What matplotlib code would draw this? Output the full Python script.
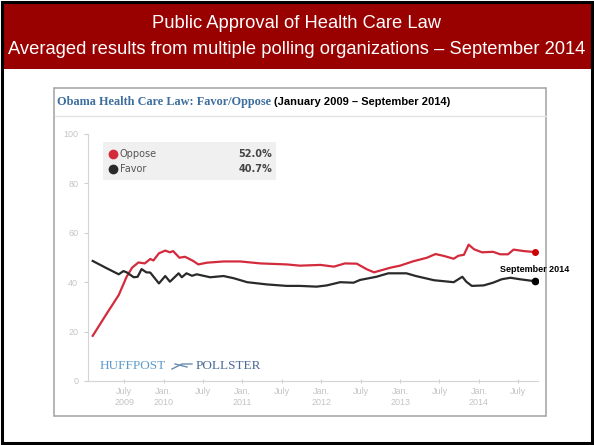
import matplotlib.pyplot as plt
from matplotlib.patches import Rectangle
from matplotlib.lines import Line2D

# %%
# Data (decimal years, percent)
oppose_t = [2009.10, 2009.28, 2009.43, 2009.53, 2009.60, 2009.68, 2009.76, 2009.83, 2009.87,
            2009.94, 2010.02, 2010.08, 2010.12, 2010.20, 2010.27, 2010.37, 2010.44, 2010.55,
            2010.76, 2010.97, 2011.23, 2011.56, 2011.73, 2011.99, 2012.16, 2012.30, 2012.45,
            2012.58, 2012.67, 2012.88, 2013.00, 2013.17, 2013.34, 2013.45, 2013.56, 2013.68,
            2013.74, 2013.81, 2013.87, 2013.94, 2014.04, 2014.18, 2014.27, 2014.37, 2014.44,
            2014.57, 2014.71]
oppose = [18.3, 27.4, 34.8, 42.2, 45.9, 48.0, 47.6, 49.4, 48.8,
          51.7, 52.8, 52.1, 52.6, 49.9, 50.3, 48.7, 47.2, 47.9,
          48.4, 48.4, 47.6, 47.2, 46.7, 47.0, 46.3, 47.6, 47.5,
          45.2, 44.0, 45.9, 46.7, 48.5, 49.9, 51.4, 50.6, 49.5,
          50.7, 51.1, 55.2, 53.3, 52.1, 52.3, 51.3, 51.3, 53.2,
          52.6, 52.2]

favor_t = [2009.10, 2009.28, 2009.43, 2009.49, 2009.53, 2009.62, 2009.67, 2009.72, 2009.78,
           2009.83, 2009.94, 2010.02, 2010.08, 2010.19, 2010.23, 2010.29, 2010.36, 2010.42,
           2010.59, 2010.76, 2010.89, 2011.06, 2011.31, 2011.56, 2011.73, 2011.94, 2012.07,
           2012.24, 2012.41, 2012.49, 2012.70, 2012.85, 2013.08, 2013.20, 2013.43, 2013.68,
           2013.79, 2013.84, 2013.91, 2014.06, 2014.18, 2014.29, 2014.40, 2014.52, 2014.71]
favor = [48.6, 45.6, 43.2, 44.5, 44.0, 42.0, 42.2, 45.3, 44.0,
         43.9, 39.5, 42.5, 40.2, 43.6, 42.0, 43.6, 42.6, 43.2,
         42.0, 42.5, 41.6, 40.0, 39.1, 38.5, 38.5, 38.2, 38.7,
         40.0, 39.8, 40.9, 42.2, 43.6, 43.6, 42.5, 40.8, 40.0,
         42.2, 40.2, 38.5, 38.7, 39.8, 41.2, 41.8, 41.2, 40.4]

labels = ['Oppose', 'Favor']
latest = ['52.0%', '40.7%']
colors = ['#d42b3c', '#2a2a2a']

tick_pos = [2009.5, 2010.0, 2010.5, 2011.0, 2011.5, 2012.0, 2012.5, 2013.0, 2013.5, 2014.0, 2014.5]
tick_lab = ['July\n2009', 'Jan.\n2010', 'July', 'Jan.\n2011', 'July', 'Jan.\n2012',
            'July', 'Jan.\n2013', 'July', 'Jan.\n2014', 'July']

W, H = 594, 445


def fx(px):
    return px / W


def fy(py):
    return 1 - py / H


# %%
fig = plt.figure(figsize=(5.94, 4.45), dpi=100)
fig.patch.set_facecolor('white')

# red header and outer frame
fig.patches.append(Rectangle((fx(3), fy(69)), fx(588), 67 / H, transform=fig.transFigure,
                             facecolor='#990000', edgecolor='none', zorder=0))
fig.patches.append(Rectangle((fx(2), fy(443)), fx(590), 441 / H, transform=fig.transFigure,
                             facecolor='none', edgecolor='black', lw=2.2, zorder=5))
fig.text(0.5, fy(23), 'Public Approval of Health Care Law', color='white', ha='center',
         va='center', fontsize=13.2, family='Liberation Sans')
fig.text(0.5, fy(49), 'Averaged results from multiple polling organizations \u2013 September 2014',
         color='white', ha='center', va='center', fontsize=13.2, family='Liberation Sans')

# chart panel box
fig.patches.append(Rectangle((fx(54), fy(416)), fx(492), 328 / H, transform=fig.transFigure,
                             facecolor='white', edgecolor='#a8a8a8', lw=1.2, zorder=1))
fig.lines.append(Line2D([fx(55), fx(546)], [fy(116), fy(116)], transform=fig.transFigure,
                        color='#e2e2e2', lw=1, zorder=2))
fig.text(fx(57), fy(102), 'Obama Health Care Law: Favor/Oppose', color='#3d6e9e',
         fontsize=8.8, fontweight='bold', family='Liberation Serif', va='center')
fig.text(fx(274), fy(102), '(January 2009 \u2013 September 2014)', color='black',
         fontsize=8, fontweight='bold', family='Liberation Sans', va='center')

# %%
ax = fig.add_axes([fx(88), fy(381), fx(450), 247 / H])
ax.set_zorder(3)
ax.patch.set_alpha(0)
ax.plot(oppose_t, oppose, color=colors[0], lw=1.6, solid_joinstyle='round')
ax.plot(favor_t, favor, color=colors[1], lw=1.6, solid_joinstyle='round')
ax.plot(oppose_t[-1], oppose[-1], 'o', color='#cc0000', ms=4)
ax.plot(favor_t[-1], favor[-1], 'o', color='black', ms=4.5)
ax.text(2014.71, 45.0, 'September 2014', fontsize=6.5, fontweight='bold', ha='center',
        va='center', family='Liberation Sans')

ax.set_xlim(2009.04, 2014.75)
ax.set_ylim(0, 100)
ax.set_yticks([0, 20, 40, 60, 80, 100])
ax.set_xticks(tick_pos)
ax.set_xticklabels(tick_lab)
for s in ['top', 'right']:
    ax.spines[s].set_visible(False)
ax.spines['left'].set_color('#d4d4d4')
ax.spines['bottom'].set_color('#d4d4d4')
ax.spines['bottom'].set_bounds(2009.0, 2014.75)
ax.tick_params(axis='y', colors='#d0d0d0', labelcolor='#c4c4c4', length=3, labelsize=6.5, pad=4)
ax.tick_params(axis='x', colors='#d0d0d0', labelcolor='#c4c4c4', length=3, direction='inout',
               labelsize=6.5, pad=3)
for t in ax.get_xticklabels() + ax.get_yticklabels():
    t.set_family('Liberation Sans')

# legend box
ax.add_patch(Rectangle((fx(103), fy(180)), fx(173), 38 / H, transform=fig.transFigure,
                       facecolor='#f0f0f0', edgecolor='none', zorder=1))
for i, (lab, val, c) in enumerate(zip(labels, latest, colors)):
    yy = fy(154 + 15 * i)
    fig.lines.append(Line2D([fx(113)], [yy], transform=fig.transFigure, marker='o', ms=6,
                            color=c, zorder=6))
    fig.text(fx(120), yy, lab, fontsize=7, color='#555555', va='center', family='DejaVu Sans',
             zorder=6)
    fig.text(fx(272), yy, val, fontsize=7, color='#444444', va='center', ha='right',
             fontweight='bold', family='DejaVu Sans', zorder=6)

# HUFFPOST POLLSTER logo
fig.text(fx(100), fy(366), 'HUFFPOST', color='#5c9ccf', fontsize=9.5, family='Liberation Serif',
         va='center')
fig.lines.append(Line2D([fx(172), fx(182), fx(192)], [fy(369), fy(364), fy(364)],
                        transform=fig.transFigure, color='#6b8bb0', lw=1, zorder=6))
fig.lines.append(Line2D([fx(175), fx(187)], [fy(364), fy(367)],
                        transform=fig.transFigure, color='#6b8bb0', lw=1, zorder=6))
fig.text(fx(196), fy(366), 'POLLSTER', color='#4a6a98', fontsize=9.5, family='Liberation Serif',
         va='center')

fig.savefig('out.png', dpi=100)
